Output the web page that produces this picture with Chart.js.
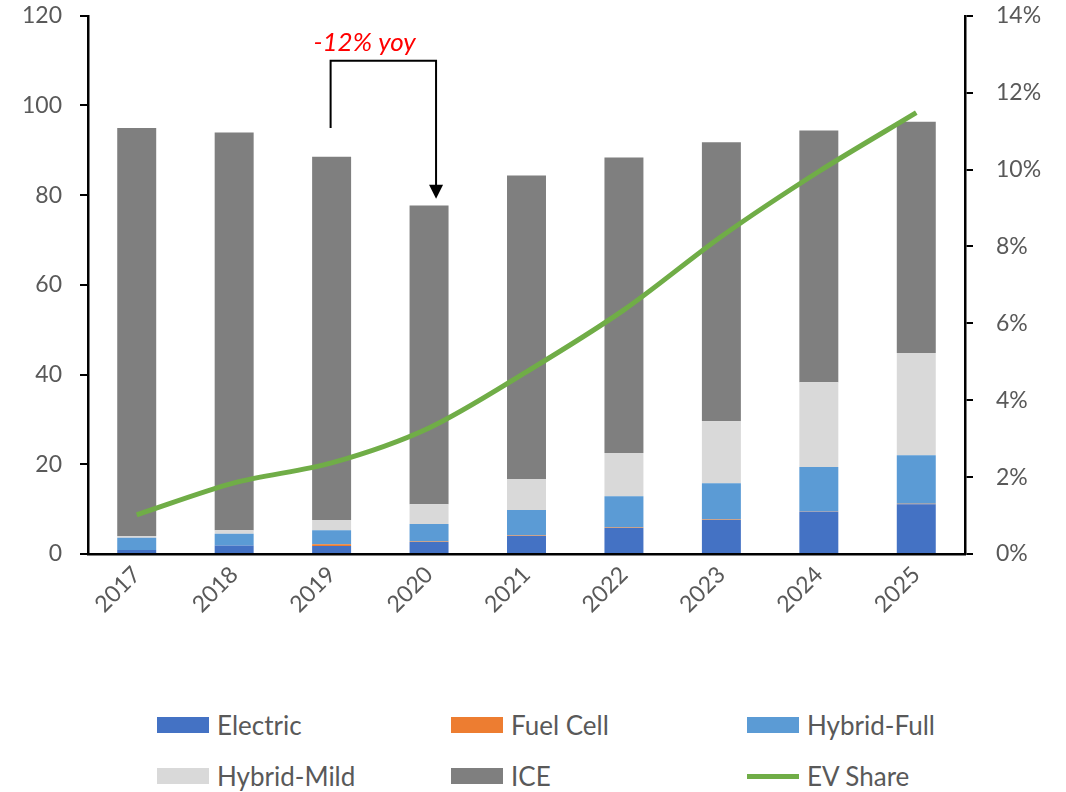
<!DOCTYPE html>
<html>
<head>
<meta charset="utf-8">
<script src="https://cdn.jsdelivr.net/npm/chart.js@4"></script>
<style>
  body { margin: 0; background: #fff; font-family: Lato, "Open Sans", sans-serif; }
  #wrap { position: relative; width: 1066px; height: 792px; overflow: hidden; }
  #chartBox { position: absolute; left: 0; top: -21px; width: 1066px; height: 681px; }
  #legend { position: absolute; left: 0; top: 0; width: 1066px; }
  .item { position: absolute; display: flex; align-items: center; height: 30px; font-size: 26px; color: #595959; }
  .sw { width: 52px; height: 16px; margin-right: 8px; }
</style>
</head>
<body>
<div id="wrap">
  <div id="chartBox"><canvas id="mainChart"></canvas></div>
  <div id="legend"></div>
</div>
<script>
// Data
const years = ["2017", "2018", "2019", "2020", "2021", "2022", "2023", "2024", "2025"];
const electric   = [0.9, 1.9, 1.8, 2.7, 4.0, 5.8, 7.6, 9.4, 11.1];
const fuelCell   = [0.0, 0.0, 0.4, 0.1, 0.1, 0.1, 0.1, 0.1, 0.1];
const hybridFull = [2.7, 2.6, 3.1, 3.9, 5.7, 7.0, 8.1, 9.9, 10.8];
const hybridMild = [0.4, 0.8, 2.3, 4.4, 6.9, 9.6, 13.8, 18.9, 22.8];
const ice        = [91.0, 88.7, 81.0, 66.6, 67.7, 65.9, 62.2, 56.1, 51.6];
const evShare    = [1.02, 1.85, 2.37, 3.28, 4.74, 6.35, 8.26, 9.95, 11.48];
const leftTicks  = [0, 20, 40, 60, 80, 100, 120];
const rightTicks = [0, 2, 4, 6, 8, 10, 12, 14];
const annotationText = "-12% yoy";

const tickColor = "#595959";
const tickFont = { family: "Lato", size: 23 };

// bracket + arrow between 2019 and 2020
const yoyArrow = {
    id: "yoyArrow",
    afterDatasetsDraw(chart) {
        const ctx = chart.ctx;
        const x = chart.scales.x, y = chart.scales.y;
        const x1 = x.getPixelForValue(2) - 1;
        const x2 = x.getPixelForValue(3) + 7;
        const yStart = y.getPixelForValue(95);
        const yTop = y.getPixelForValue(110);
        const yTip = y.getPixelForValue(79.2);
        ctx.save();
        ctx.strokeStyle = "#000";
        ctx.lineWidth = 2;
        ctx.beginPath();
        ctx.moveTo(x1, yStart);
        ctx.lineTo(x1, yTop);
        ctx.lineTo(x2, yTop);
        ctx.lineTo(x2, yTip - 12);
        ctx.stroke();
        ctx.fillStyle = "#000";
        ctx.beginPath();
        ctx.moveTo(x2 - 7, yTip - 14);
        ctx.lineTo(x2 + 7, yTip - 14);
        ctx.lineTo(x2, yTip);
        ctx.closePath();
        ctx.fill();
        ctx.fillStyle = "#FF0000";
        ctx.font = "italic 26px Lato";
        ctx.textAlign = "center";
        ctx.textBaseline = "middle";
        ctx.fillText(annotationText, x1 + 34, yTop - 18);
        ctx.restore();
    }
};

const ctx = document.getElementById("mainChart").getContext("2d");
const chart = new Chart(ctx, {
    type: "bar",
    data: {
        labels: years,
        datasets: [
            { label: "EV Share", type: "line", data: evShare, yAxisID: "y1", order: 0,
              borderColor: "#70AD47", backgroundColor: "#70AD47", borderWidth: 5,
              pointRadius: 0, tension: 0.3, fill: false },
            { label: "Electric", data: electric, backgroundColor: "#4472C4", order: 1 },
            { label: "Fuel Cell", data: fuelCell, backgroundColor: "#ED7D31", order: 1 },
            { label: "Hybrid-Full", data: hybridFull, backgroundColor: "#5B9BD5", order: 1 },
            { label: "Hybrid-Mild", data: hybridMild, backgroundColor: "#D9D9D9", order: 1 },
            { label: "ICE", data: ice, backgroundColor: "#7F7F7F", order: 1 }
        ]
    },
    options: {
        responsive: true,
        maintainAspectRatio: false,
        animation: false,
        layout: { padding: { top: 16, left: 0, right: 0, bottom: 0 } },
        datasets: { bar: { barPercentage: 0.4, categoryPercentage: 1.0 } },
        plugins: { legend: { display: false }, tooltip: { enabled: false } },
        scales: {
            x: {
                stacked: true,
                grid: { display: false, drawTicks: false },
                border: { display: true, color: "#000", width: 2.5 },
                ticks: { color: tickColor, font: tickFont, minRotation: 45, maxRotation: 45, padding: 7 },
                afterFit(s) { s.height = 106; }
            },
            y: {
                stacked: true,
                min: 0, max: 120,
                afterBuildTicks(s) { s.ticks = leftTicks.map(v => ({ value: v })); },
                grid: { drawOnChartArea: false, drawTicks: true, tickLength: 8, color: "#000", lineWidth: 2 },
                border: { display: true, color: "#000", width: 2.5 },
                ticks: { color: tickColor, font: tickFont, padding: 18 },
                afterFit(s) { s.width = 88; }
            },
            y1: {
                position: "right",
                min: 0, max: 14,
                afterBuildTicks(s) { s.ticks = rightTicks.map(v => ({ value: v })); },
                grid: { drawOnChartArea: false, drawTicks: true, tickLength: 8, color: "#000", lineWidth: 2 },
                border: { display: true, color: "#000", width: 2.5 },
                ticks: { color: tickColor, font: tickFont, padding: 23, callback: v => v + "%" },
                afterFit(s) { s.width = 101; }
            }
        }
    },
    plugins: [yoyArrow]
});

// HTML legend, 3 columns x 2 rows
const legendOrder = ["Electric", "Fuel Cell", "Hybrid-Full", "Hybrid-Mild", "ICE", "EV Share"];
const colX = [157, 451, 747];
const rowY = [710, 761];
const legend = document.getElementById("legend");
legendOrder.forEach((name, i) => {
    const ds = chart.data.datasets.find(d => d.label === name);
    const item = document.createElement("div");
    item.className = "item";
    item.style.left = colX[i % 3] + "px";
    item.style.top = rowY[Math.floor(i / 3)] + "px";
    const sw = document.createElement("div");
    sw.className = "sw";
    if (ds.type === "line") {
        sw.style.height = "5px";
        sw.style.background = ds.borderColor;
    } else {
        sw.style.background = ds.backgroundColor;
    }
    item.appendChild(sw);
    item.appendChild(document.createTextNode(name));
    legend.appendChild(item);
});
</script>
</body>
</html>
